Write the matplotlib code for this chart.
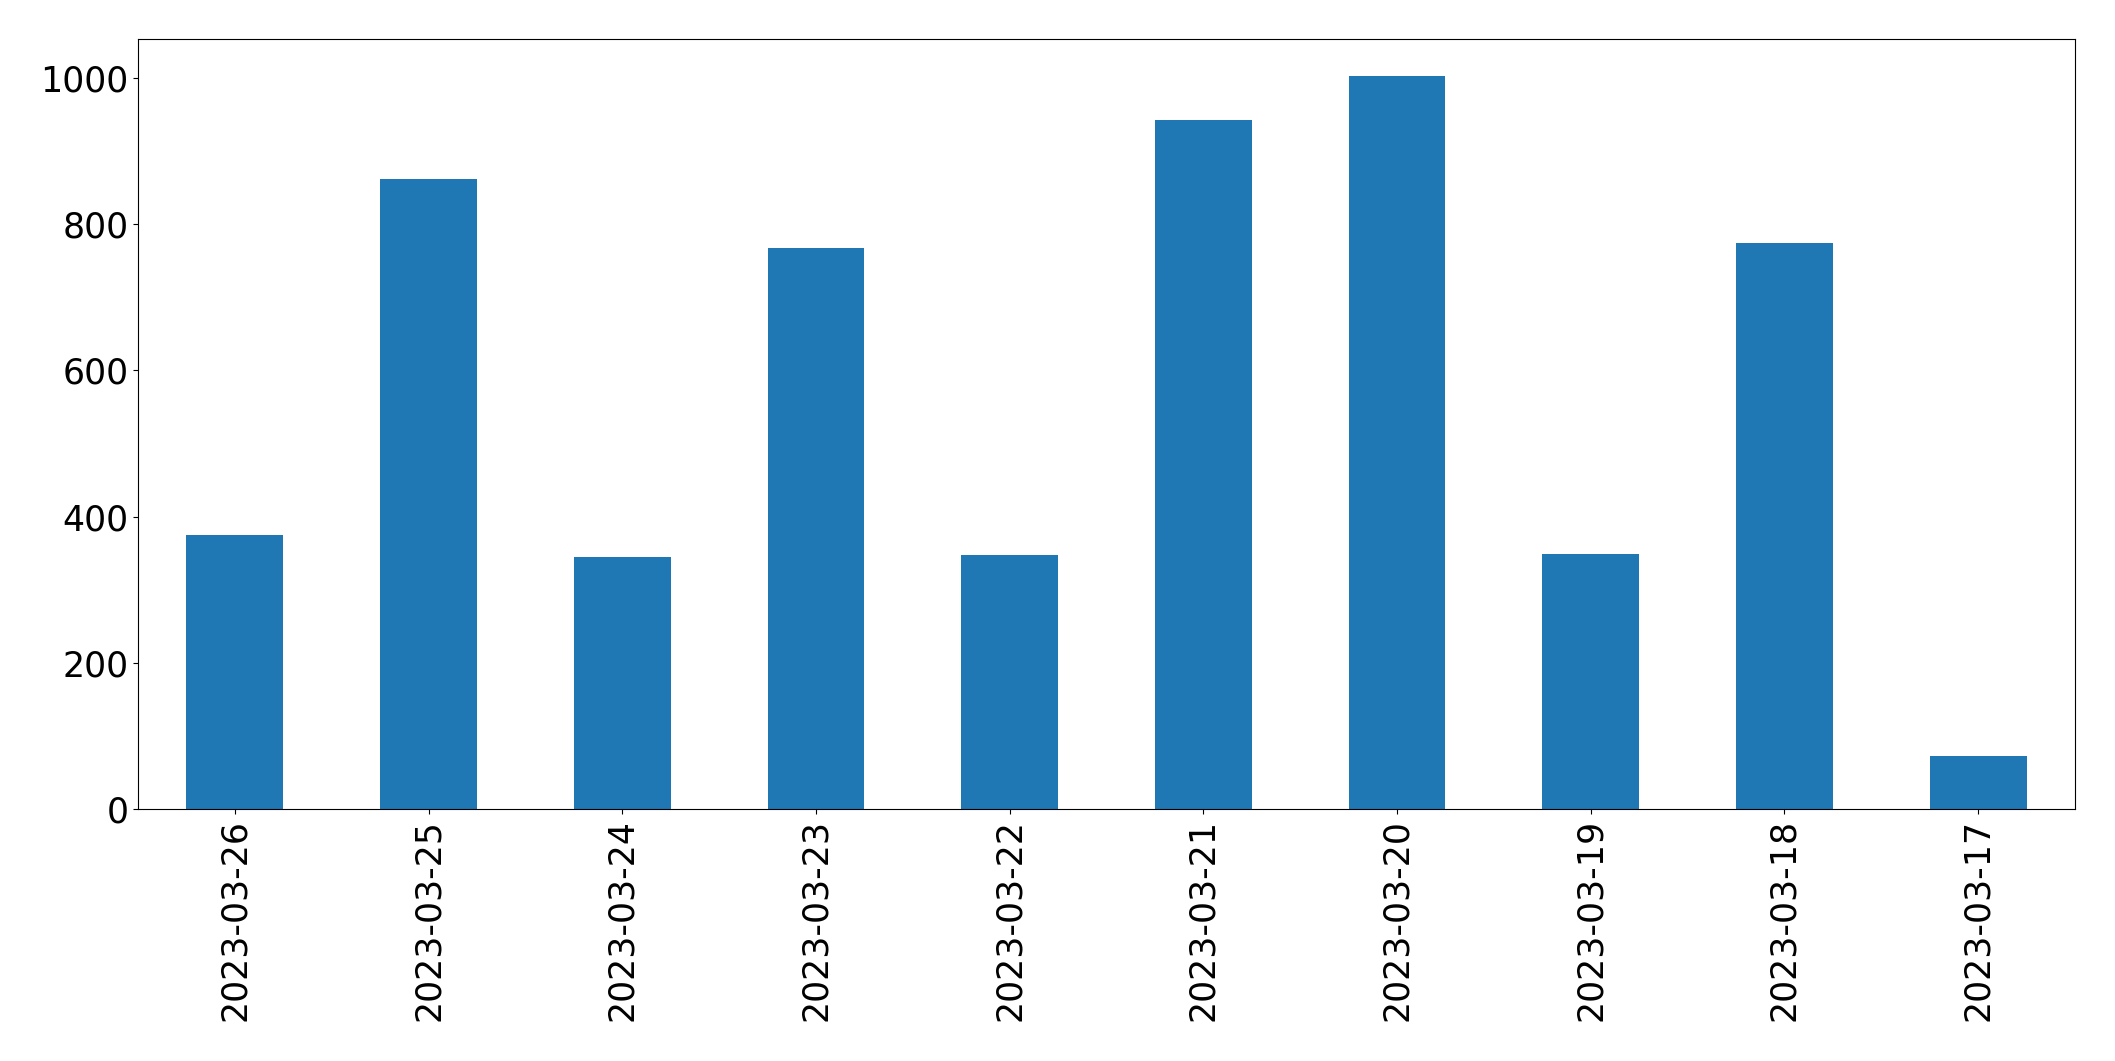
import matplotlib
matplotlib.use("Agg")
import matplotlib.pyplot as plt

dates = ["2023-03-26", "2023-03-25", "2023-03-24", "2023-03-23", "2023-03-22",
         "2023-03-21", "2023-03-20", "2023-03-19", "2023-03-18", "2023-03-17"]
counts = [375, 862, 344, 767, 347, 943, 1003, 349, 774, 73]

fig = plt.figure(figsize=(21.15, 10.61), dpi=100)
ax = fig.add_axes([138/2115, 1-809/1061, (2075-138)/2115, (809-39)/1061])
x = range(len(dates))
ax.bar(x, counts, width=0.5, color="#1f77b4")
ax.set_xlim(-0.5, len(dates) - 0.5)
ax.set_ylim(0, max(counts) * 1.05)
ax.set_xticks(list(x))
ax.set_xticklabels(dates, rotation=90)
ax.tick_params(labelsize=25)
fig.savefig("out.png", dpi=100)
